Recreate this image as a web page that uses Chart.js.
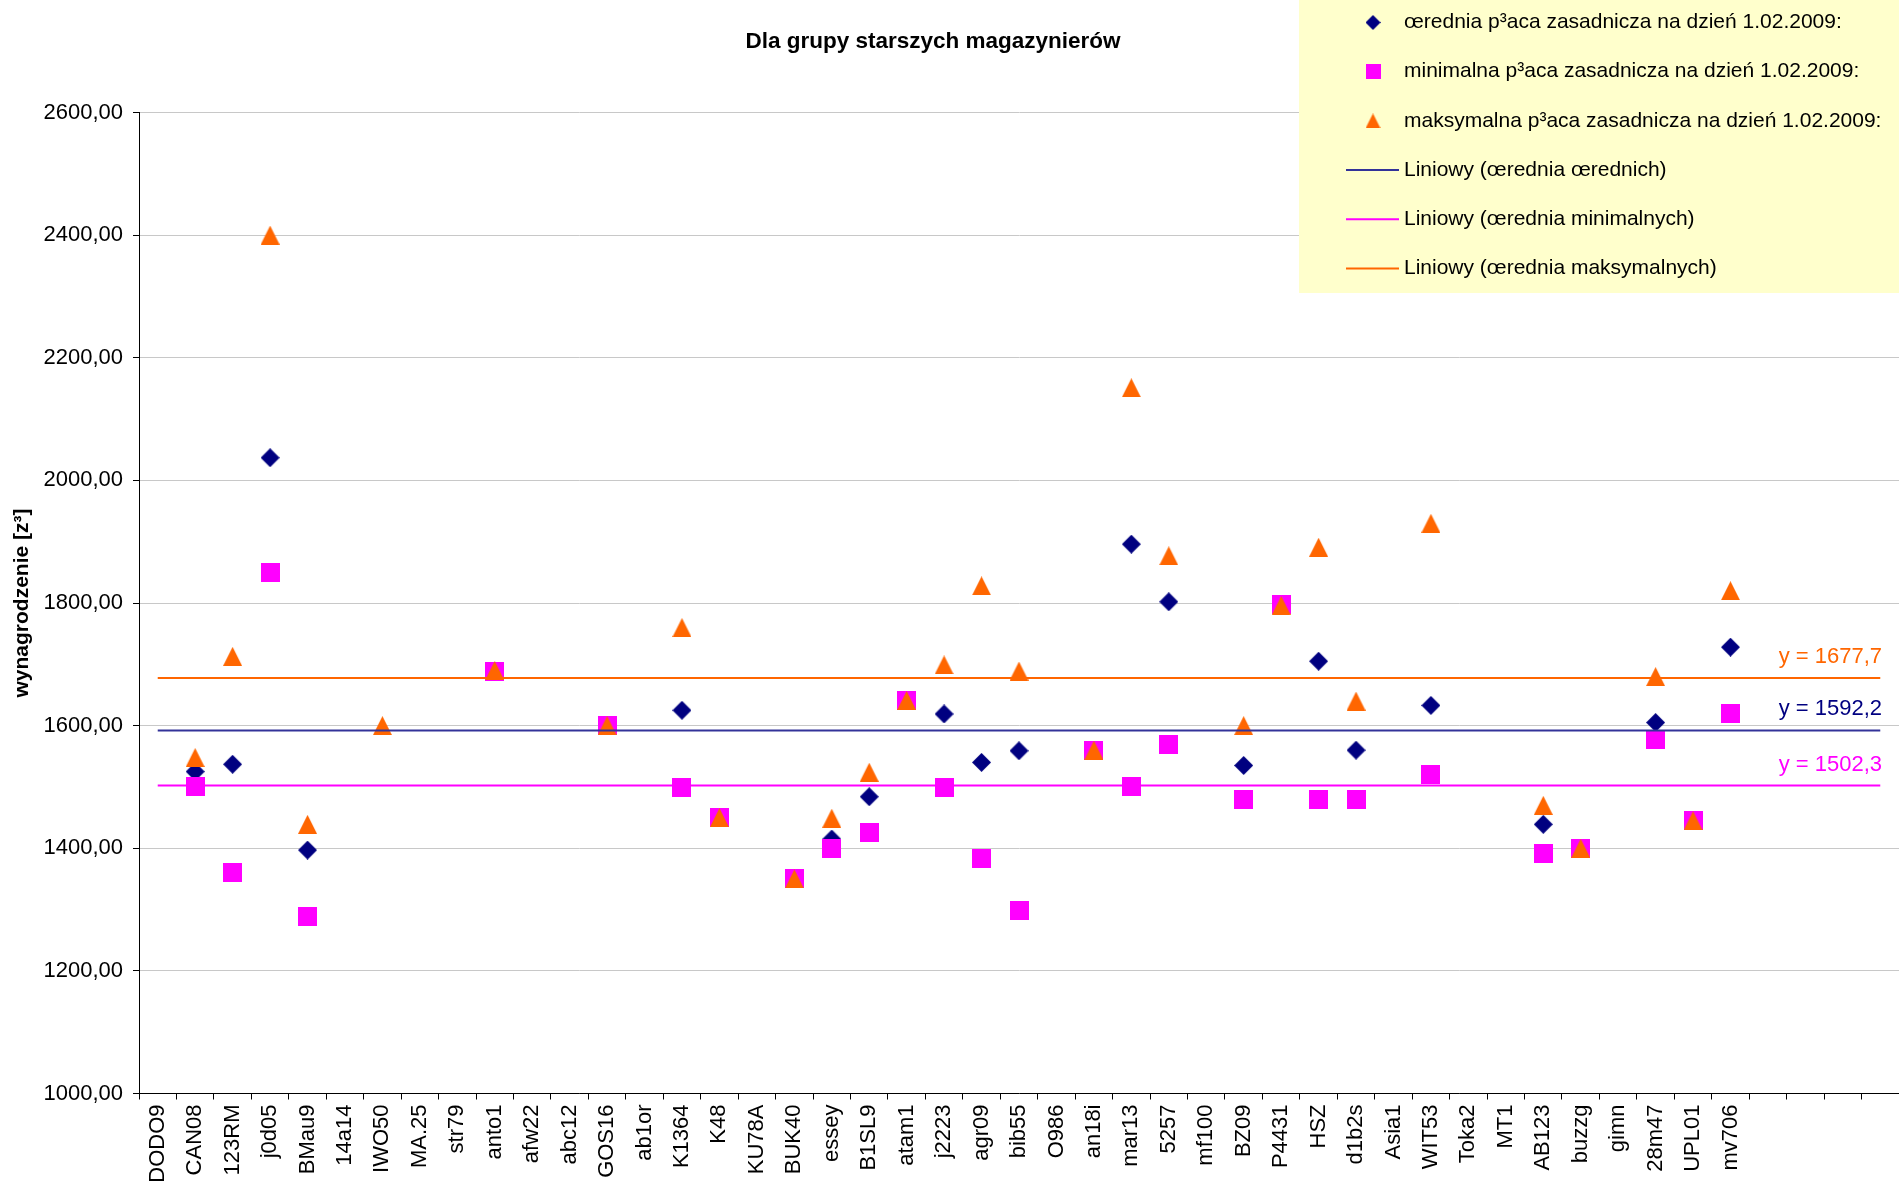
<!DOCTYPE html>
<html>
<head>
<meta charset="utf-8">
<script src="https://cdn.jsdelivr.net/npm/chart.js@4"></script>
<style>
  html, body { margin: 0; padding: 0; background: #fff; }
  canvas { display: block; }
</style>
</head>
<body>
<canvas id="chart" width="1899" height="1187"></canvas>
<script>
// data
const categories = ['DODO9','CAN08','123RM','j0d05','BMau9','14a14','IWO50','MA.25','str79','anto1',
  'afw22','abc12','GOS16','ab1or','K1364','K48','KU78A','BUK40','essey','B1SL9',
  'atam1','j2223','agr09','bib55','O986','an18i','mar13','5257','mf100','BZ09',
  'P4431','HSZ','d1b2s','Asia1','WIT53','Toka2','MT1','AB123','buzzg','gimn',
  '28m47','UPL01','mv706','','','',''];

const avgPay = [null,1525,1537,2037,1397,null,null,null,null,1688,
  null,null,1600,null,1625,1450,null,1350,1415,1484,
  1641,1619,1540,1559,null,1560,1896,1802,null,1535,
  1797,1705,1560,null,1633,null,null,1439,1400,null,
  1605,1445,1728,null,null,null,null];

const minPay = [null,1500,1361,1850,1289,null,null,null,null,1688,
  null,null,1600,null,1499,1450,null,1350,1399,1425,
  1641,1499,1383,1298,null,1560,1500,1570,null,1480,
  1797,1480,1480,null,1520,null,null,1391,1400,null,
  1578,1445,1619,null,null,null,null];

const maxPay = [null,1548,1713,2400,1439,null,1600,null,null,1690,
  null,null,1600,null,1760,1450,null,1350,1449,1524,
  1641,1699,1828,1689,null,1560,2151,1877,null,1600,
  1796,1891,1640,null,1930,null,null,1470,1400,null,
  1680,1445,1820,null,null,null,null];

// trend line levels (Excel linear trendlines)
const trendAvg = 1592.2;
const trendMin = 1502.3;
const trendMax = 1677.7;

const yTicks = [1000, 1200, 1400, 1600, 1800, 2000, 2200, 2400, 2600];

const legendLabels = [
  'œrednia p³aca zasadnicza na dzień 1.02.2009:',
  'minimalna p³aca zasadnicza na dzień 1.02.2009:',
  'maksymalna p³aca zasadnicza na dzień 1.02.2009:',
  'Liniowy (œrednia œrednich)',
  'Liniowy (œrednia minimalnych)',
  'Liniowy (œrednia maksymalnych)'
];

const NAVY = '#000080', MAGENTA = '#ff00ff', ORANGE = '#ff6600', TRENDBLUE = '#333399';
const FONT = "'Liberation Sans', Arial, sans-serif";

function makeMarker(shape, size, color){
  const c = document.createElement('canvas');
  c.width = size; c.height = size;
  const g = c.getContext('2d');
  g.fillStyle = color;
  g.beginPath();
  if (shape === 'diamond') {
    g.moveTo(size/2, 0); g.lineTo(size, size/2); g.lineTo(size/2, size); g.lineTo(0, size/2);
  } else if (shape === 'triangle') {
    g.moveTo(size/2, 0); g.lineTo(size, size); g.lineTo(0, size);
  } else {
    g.rect(0, 0, size, size);
  }
  g.closePath();
  g.fill();
  return c;
}

const mDiamond = makeMarker('diamond', 19, NAVY);
const mSquare = makeMarker('square', 19, MAGENTA);
const mTriangle = makeMarker('triangle', 19, ORANGE);
const lgDiamond = makeMarker('diamond', 15, NAVY);
const lgSquare = makeMarker('square', 15, MAGENTA);
const lgTriangle = makeMarker('triangle', 15, ORANGE);

function trendData(v){
  const arr = categories.map(() => null);
  arr[0] = v; arr[arr.length - 1] = v;
  return arr;
}

const fmt = (v, d) => v.toFixed(d).replace('.', ',');

const decor = {
  id: 'decor',
  afterDatasetsDraw(chart){
    const c = chart.ctx, y = chart.scales.y;
    c.save();
    c.font = '22px ' + FONT;
    c.textAlign = 'right';
    c.textBaseline = 'middle';
    [[trendMax, ORANGE], [trendAvg, NAVY], [trendMin, MAGENTA]].forEach(([v, col]) => {
      c.fillStyle = col;
      c.fillText('y = ' + fmt(v, 1), 1882, y.getPixelForValue(v) - 21);
    });
    c.restore();
  },
  afterDraw(chart){
    const c = chart.ctx;
    c.save();
    // title
    c.fillStyle = '#000';
    c.font = 'bold 22.5px ' + FONT;
    c.textAlign = 'center';
    c.textBaseline = 'middle';
    c.fillText('Dla grupy starszych magazynierów', 933, 42);
    // legend box
    c.fillStyle = '#ffffcc';
    c.fillRect(1299, 0, 600, 293);
    const marks = [lgDiamond, lgSquare, lgTriangle];
    const lines = [TRENDBLUE, MAGENTA, ORANGE];
    c.font = '21px ' + FONT;
    c.textAlign = 'left';
    legendLabels.forEach((txt, i) => {
      const ly = 22.5 + i * 49.2;
      if (i < 3) {
        const m = marks[i];
        c.drawImage(m, 1373 - m.width/2, ly - m.height/2);
      } else {
        c.strokeStyle = lines[i - 3];
        c.lineWidth = 2;
        c.beginPath(); c.moveTo(1346, ly); c.lineTo(1399, ly); c.stroke();
      }
      c.fillStyle = '#000';
      c.fillText(txt, 1404, ly);
    });
    c.restore();
  }
};

const scatterDs = (label, data, style, order) => ({
  label, data, order,
  showLine: false,
  pointStyle: style,
  pointRadius: 9,
  pointHoverRadius: 9
});

const trendDs = (label, v, color) => ({
  label, data: trendData(v), order: 0,
  borderColor: color, borderWidth: 2,
  pointRadius: 0, spanGaps: true, tension: 0
});

new Chart(document.getElementById('chart').getContext('2d'), {
  type: 'line',
  data: {
    labels: categories,
    datasets: [
      scatterDs(legendLabels[0], avgPay, mDiamond, 3),
      scatterDs(legendLabels[1], minPay, mSquare, 2),
      scatterDs(legendLabels[2], maxPay, mTriangle, 1),
      trendDs(legendLabels[3], trendAvg, TRENDBLUE),
      trendDs(legendLabels[4], trendMin, MAGENTA),
      trendDs(legendLabels[5], trendMax, ORANGE)
    ]
  },
  options: {
    responsive: false,
    animation: false,
    devicePixelRatio: 1,
    layout: { autoPadding: false, padding: { top: 112.5, right: 0, bottom: 0, left: 0 } },
    plugins: {
      legend: { display: false },
      title: { display: false },
      tooltip: { enabled: false }
    },
    scales: {
      x: {
        offset: true,
        grid: { offset: true, drawOnChartArea: false, drawTicks: true, tickLength: 6, tickColor: '#000' },
        border: { color: '#000', width: 1 },
        ticks: {
          autoSkip: false, maxRotation: 90, minRotation: 90, padding: 5,
          color: '#000', font: { family: FONT, size: 22 }
        },
        afterFit: s => { s.height = 93.5; s.paddingLeft = 0; s.paddingRight = 0; }
      },
      y: {
        min: yTicks[0], max: yTicks[yTicks.length - 1],
        afterBuildTicks: s => { s.ticks = yTicks.map(v => ({ value: v })); },
        ticks: {
          padding: 10, color: '#000', font: { family: FONT, size: 22 },
          callback: v => fmt(v, 2)
        },
        grid: { color: '#c8c8c8', lineWidth: 1, tickColor: '#000', tickLength: 6 },
        border: { color: '#000', width: 1 },
        title: {
          display: true, text: 'wynagrodzenie [z³]', color: '#000',
          font: { family: FONT, size: 21, weight: 'bold' },
          padding: { top: 10, bottom: 0 }
        },
        afterFit: s => { s.width = 139; s.paddingTop = 0; s.paddingBottom = 0; }
      }
    }
  },
  plugins: [decor]
});
</script>
</body>
</html>
